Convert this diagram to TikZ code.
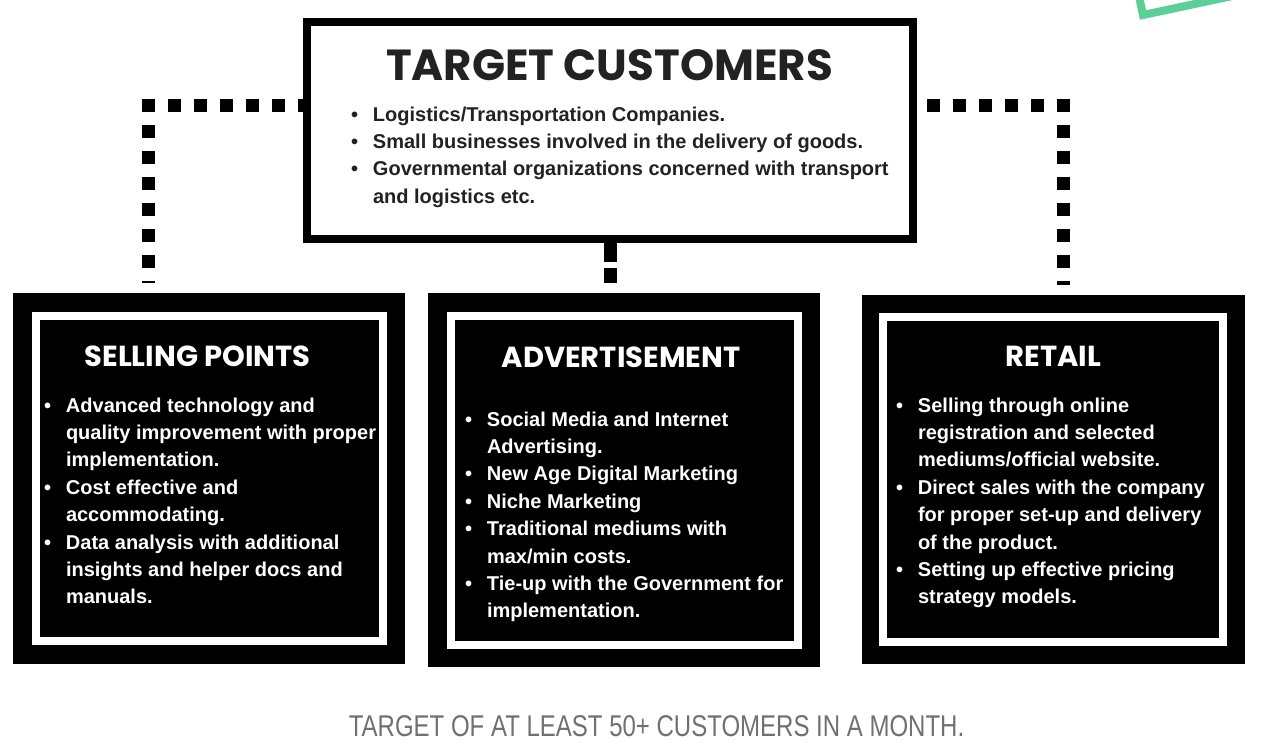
\documentclass[tikz,border=0pt]{standalone}
\usepackage{fontspec}
\setmainfont{Liberation Sans}
\newfontfamily\headfont{Poppins}
\newfontfamily\thinfont{Liberation Sans}[FakeStretch=0.8]
\definecolor{inkgray}{HTML}{222222}
\definecolor{notegray}{HTML}{707070}
\definecolor{mint}{HTML}{5CCF96}
\newcommand\bul{\makebox[22pt][l]{\textbullet}}
\newcommand\ind{\hspace*{22pt}}

\begin{document}
\begin{tikzpicture}[x=1pt, y=-1pt,
    every node/.style={inner sep=0pt, outer sep=0pt},
    bodytext/.style={font=\fontsize{20}{27.4}\selectfont\bfseries, align=left, anchor=base west},
    boxtitle/.style={font=\headfont\bfseries\fontsize{29}{30}\selectfont, text=white, anchor=base},
    blackbox/.style={fill=black},
    whiteframe/.style={draw=white, line width=8pt},
    dotline/.style={line width=13pt, dash pattern=on 13pt off 13pt}]
    \useasboundingbox (0,0) rectangle (1261,742);
    \begin{scope}
        \clip (0,0) rectangle (1261,742);
        \draw[mint, line width=8pt, rotate around={12:(1143,15)}] (1143,15) rectangle (1320,-90);
    \end{scope}

    \node[minimum width=606pt, minimum height=217pt] (target) at (610,130.5) {};
    \node[blackbox, minimum width=392pt, minimum height=371pt] (sell) at (209,478.5) {};
    \node[blackbox, minimum width=392pt, minimum height=374pt] (advert) at (624,480) {};
    \node[blackbox, minimum width=383pt, minimum height=369pt] (retail) at (1053.5,479.5) {};

    \coordinate (lc) at (148.5,105);
    \coordinate (rc) at (1063.5,105);
    \draw[dotline] ([xshift=-6.5pt]lc) -- (lc -| target.west);
    \draw[dotline, shorten >=10pt] ([yshift=6.5pt]lc) -- (lc |- sell.north);
    \draw[dotline] ([xshift=6.5pt]rc) -- (rc -| target.east);
    \draw[dotline, shorten >=10pt] ([yshift=6.5pt]rc) -- (rc |- retail.north);
    \draw[line width=13pt, dash pattern=on 23pt off 6pt on 15pt off 60pt] (target.south) -- (target.south |- advert.north);

    \draw[line width=8pt, fill=white] (target.north west) rectangle (target.south east);
    \node[font=\headfont\bfseries\fontsize{43.5}{44}\selectfont, text=inkgray, anchor=base] (ttitle) at (609.5,80) {TARGET CUSTOMERS};
    \node[bodytext, text=inkgray] (tlist) at (351,203.2)
        {\bul Logistics/Transportation Companies.\\
         \bul Small businesses involved in the delivery of goods.\\
         \bul Governmental organizations concerned with transport\\
         \ind and logistics etc.};

    \node[whiteframe, minimum width=347pt, minimum height=325pt] (sellframe) at (209.5,478.5) {};
    \node[boxtitle] (selltitle) at (197.5,366) {SELLING POINTS};
    \node[bodytext, text=white] (selllist) at (44,603.8)
        {\bul Advanced technology and\\
         \ind quality improvement with proper\\
         \ind implementation.\\
         \bul Cost effective and\\
         \ind accommodating.\\
         \bul Data analysis with additional\\
         \ind insights and helper docs and\\
         \ind manuals.};

    \node[whiteframe, minimum width=347pt, minimum height=329pt] (advertframe) at (624.5,480.5) {};
    \node[boxtitle] (adverttitle) at (621,367) {ADVERTISEMENT};
    \node[bodytext, text=white] (advertlist) at (465,617.8)
        {\bul Social Media and Internet\\
         \ind Advertising.\\
         \bul New Age Digital Marketing\\
         \bul Niche Marketing\\
         \bul Traditional mediums with\\
         \ind max/min costs.\\
         \bul Tie-up with the Government for\\
         \ind implementation.};

    \node[whiteframe, minimum width=340pt, minimum height=325pt] (retailframe) at (1053,479.5) {};
    \node[boxtitle] (retailtitle) at (1053.5,366) {RETAIL};
    \node[bodytext, text=white] (retaillist) at (896,603.8)
        {\bul Selling through online\\
         \ind registration and selected\\
         \ind mediums/official website.\\
         \bul Direct sales with the company\\
         \ind for proper set-up and delivery\\
         \ind of the product.\\
         \bul Setting up effective pricing\\
         \ind strategy models.};

    \node[font=\thinfont\fontsize{30}{30}\selectfont, text=notegray, anchor=base] (goal) at (656.5,736)
        {TARGET OF AT LEAST 50+ CUSTOMERS IN A MONTH.};
\end{tikzpicture}
\end{document}
